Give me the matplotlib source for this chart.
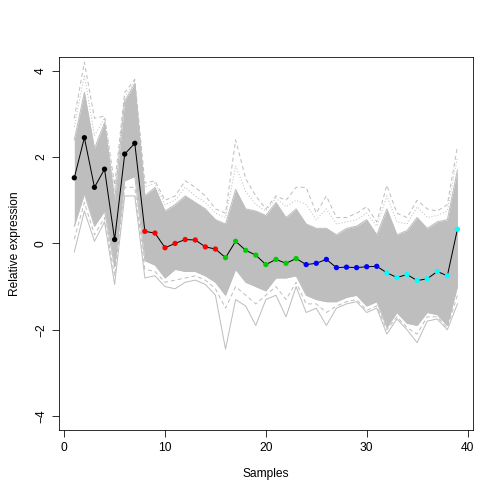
import numpy as np
import matplotlib
matplotlib.use("Agg")
import matplotlib.pyplot as plt

plt.rcParams['font.family'] = ['Liberation Sans', 'DejaVu Sans']

samples = np.arange(1, 40)

# highlighted profile (black line, coloured points)
profile = [1.52, 2.45, 1.30, 1.72, 0.09, 2.07, 2.32, 0.28, 0.24, -0.10,
           0.00, 0.09, 0.08, -0.08, -0.13, -0.33, 0.05, -0.16, -0.27, -0.49,
           -0.37, -0.46, -0.35, -0.49, -0.46, -0.37, -0.56, -0.55, -0.56, -0.54,
           -0.53, -0.68, -0.79, -0.72, -0.86, -0.82, -0.65, -0.75, 0.33]
point_colors = (['black'] * 7 + ['red'] * 8 + ['#00cd00'] * 8 +
                ['blue'] * 8 + ['cyan'] * 8)

band_hi = [2.4, 3.5, 2.2, 2.8, 1.0, 3.3, 3.7, 1.1, 1.3, 0.75,
           0.9, 1.1, 0.95, 0.8, 0.55, 0.45, 1.25, 0.8, 0.75, 0.65,
           0.95, 0.6, 0.8, 0.45, 0.35, 0.35, 0.2, 0.35, 0.4, 0.55,
           0.2, 0.8, 0.2, 0.3, 0.6, 0.35, 0.5, 0.55, 1.7]
band_lo = [0.4, 1.15, 0.4, 0.75, -0.55, 1.45, 1.55, -0.4, -0.5, -0.8,
           -0.6, -0.65, -0.65, -0.75, -0.9, -1.2, -0.6, -0.9, -1.0, -1.1,
           -0.8, -0.8, -0.75, -1.2, -1.3, -1.35, -1.35, -1.25, -1.2, -1.45,
           -1.35, -1.95, -1.6, -1.85, -1.9, -1.6, -1.65, -1.9, -1.0]

# a few individual grey profiles near the edges of the band
edge_hi = [2.7, 3.9, 2.5, 2.9, 1.2, 3.4, 3.75, 1.3, 1.4, 0.9,
           1.0, 1.3, 1.1, 0.95, 0.7, 0.6, 1.8, 1.2, 0.9, 0.75,
           1.05, 0.85, 1.0, 0.9, 0.55, 0.8, 0.45, 0.5, 0.55, 0.7,
           0.4, 1.1, 0.5, 0.45, 0.85, 0.6, 0.65, 0.75, 2.0]
edge_lo = [0.1, 0.95, 0.2, 0.6, -0.75, 1.3, 1.3, -0.6, -0.65, -0.9,
           -0.85, -0.8, -0.75, -0.85, -1.05, -1.5, -1.0, -1.2, -1.4, -1.2,
           -1.0, -1.3, -0.9, -1.4, -1.4, -1.6, -1.45, -1.35, -1.3, -1.55,
           -1.45, -2.0, -1.7, -1.95, -2.1, -1.7, -1.7, -1.95, -1.2]

# most extreme grey profiles
outer_hi = [2.9, 4.2, 2.9, 2.95, 1.35, 3.5, 3.8, 1.4, 1.45, 1.0,
            1.1, 1.45, 1.3, 1.1, 0.8, 0.7, 2.4, 1.5, 1.1, 0.8,
            1.1, 1.0, 1.3, 1.3, 0.7, 1.1, 0.6, 0.6, 0.7, 0.85,
            0.5, 1.35, 0.7, 0.6, 1.0, 0.8, 0.75, 0.9, 2.25]
outer_lo = [-0.2, 0.75, 0.05, 0.5, -0.95, 1.1, 1.1, -0.8, -0.75, -1.0,
            -1.05, -0.9, -0.85, -0.95, -1.2, -2.45, -1.3, -1.45, -1.9, -1.3,
            -1.2, -1.7, -1.0, -1.6, -1.5, -1.9, -1.5, -1.4, -1.35, -1.6,
            -1.5, -2.1, -1.75, -2.0, -2.3, -1.8, -1.75, -2.0, -1.4]

grey = '#bebebe'

fig = plt.figure(figsize=(7, 7), dpi=72)
ax = fig.add_axes([0.117, 0.147, 0.821, 0.740])

ax.fill_between(samples, band_lo, band_hi, color=grey, lw=0)
ax.plot(samples, band_hi, color=grey, lw=1)
ax.plot(samples, band_lo, color=grey, lw=1)
ax.plot(samples, edge_hi, color=grey, lw=1, ls=(0, (1, 2)))
ax.plot(samples, edge_lo, color=grey, lw=1, ls=(0, (4, 3)))
ax.plot(samples, outer_hi, color=grey, lw=1, ls=(0, (4, 3)))
ax.plot(samples, outer_lo, color=grey, lw=1)

ax.plot(samples, profile, color='black', lw=1)
ax.scatter(samples, profile, c=point_colors, s=28, zorder=3, lw=0)

ax.set_xlim(-0.52, 40.52)
ax.set_ylim(-4.32, 4.32)
ax.set_xticks([0, 10, 20, 30, 40])
ax.set_yticks([-4, -2, 0, 2, 4])
ax.tick_params(direction='out', length=7, labelsize=12, pad=5)
for lab in ax.get_yticklabels():
    lab.set_rotation(90)
    lab.set_va('center')
ax.set_xlabel('Samples', fontsize=12, labelpad=14)
ax.set_ylabel('Relative expression', fontsize=12, labelpad=14)

fig.savefig('out.png', dpi=72)
